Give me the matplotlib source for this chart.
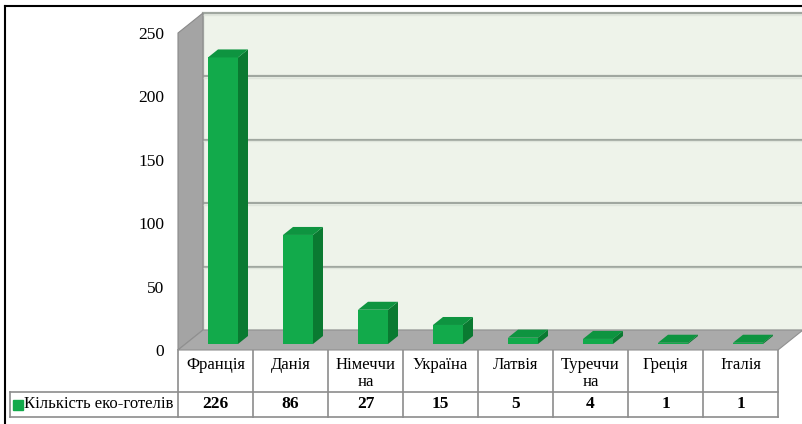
import matplotlib.pyplot as plt
from matplotlib.patches import Polygon
from matplotlib.lines import Line2D

# Дані
countries = ['Франція', 'Данія', 'Німеччи\nна', 'Україна', 'Латвія', 'Туреччи\nна', 'Греція', 'Італія']
hotels = [226, 86, 27, 15, 5, 4, 1, 1]
series_name = 'Кількість еко-готелів'
yticks = [0, 50, 100, 150, 200, 250]

plt.rcParams['font.family'] = ['Liberation Serif', 'DejaVu Serif']

W, H = 803, 424
fig = plt.figure(figsize=(W / 100, H / 100), dpi=100)
ax = fig.add_axes([178 / W, (H - 350) / H, 600 / W, 317 / H])
n = len(countries)
ax.set_xlim(0, n)
ax.set_ylim(0, 250)
for s in ax.spines.values():
    s.set_visible(False)
ax.set_facecolor('none')

# глибина 3D (в одиницях даних)
dx = 25 / 75
dy = 20 / (317 / 250)
top = yticks[-1]

# задня стінка
ax.add_patch(Polygon([(dx, dy), (n + dx, dy), (n + dx, top + dy), (dx, top + dy)],
                     closed=True, fc='#eef3ea', ec='#b8beb8', lw=1.0, clip_on=False, zorder=1))
for v in yticks[1:]:
    ax.plot([dx, n + dx], [v + dy, v + dy], color='#a0a7a0', lw=1.6, clip_on=False, zorder=2)
    ax.plot([dx, n + dx], [v + dy - 1.2, v + dy - 1.2], color='#dfe5dc', lw=1.0, clip_on=False, zorder=2)

# ліва стінка
ax.add_patch(Polygon([(0, 0), (dx, dy), (dx, top + dy), (0, top)],
                     closed=True, fc='#a4a4a4', ec='#8a8a8a', lw=0.8, clip_on=False, zorder=3))
# підлога
ax.add_patch(Polygon([(0, 0), (n, 0), (n + dx, dy), (dx, dy)],
                     closed=True, fc='#aaaaaa', ec='#909090', lw=0.8, clip_on=False, zorder=3))

# стовпчики
front_c, side_c, top_c = '#12aa4b', '#0a7a31', '#0e9440'
f0, d = 0.3, 0.4
for i, v in enumerate(hotels):
    x0 = i + 0.3 + f0 * dx
    x1 = x0 + 0.4
    y0 = f0 * dy
    y1 = v + f0 * dy
    ax.bar(x0 + 0.2, v, width=0.4, bottom=y0, color=front_c, lw=0, zorder=5, clip_on=False)
    ax.add_patch(Polygon([(x1, y0), (x1 + d * dx, y0 + d * dy), (x1 + d * dx, y1 + d * dy), (x1, y1)],
                         closed=True, fc=side_c, lw=0, clip_on=False, zorder=5))
    ax.add_patch(Polygon([(x0, y1), (x1, y1), (x1 + d * dx, y1 + d * dy), (x0 + d * dx, y1 + d * dy)],
                         closed=True, fc=top_c, lw=0, clip_on=False, zorder=5))

# вісь Y
ax.set_xticks([])
ax.set_yticks(yticks)
ax.set_yticklabels([str(t) for t in yticks], fontsize=12.5)
ax.tick_params(axis='y', length=0, pad=10)

# таблиця даних
xt = ax.get_xaxis_transform()
y_mid = -42 / 317
y_bot = -67 / 317
x_left = -168 / 75
line_c = '#8c8c8c'
ax.plot([x_left, n], [y_mid, y_mid], color=line_c, lw=1.2, transform=xt, clip_on=False)
ax.plot([x_left, n], [y_bot, y_bot], color=line_c, lw=1.2, transform=xt, clip_on=False)
ax.plot([x_left, x_left], [y_mid, y_bot], color=line_c, lw=1.2, transform=xt, clip_on=False)
for i in range(n + 1):
    ax.plot([i, i], [0, y_bot], color=line_c, lw=1.2, transform=xt, clip_on=False)
for i, (c, v) in enumerate(zip(countries, hotels)):
    ax.text(i + 0.5, -7 / 317, c, transform=xt, ha='center', va='top', fontsize=12,
            linespacing=1.05)
    ax.text(i + 0.5, (y_mid + y_bot) / 2, str(v), transform=xt, ha='center', va='center',
            fontsize=12.5, fontweight='bold')
ax.plot([(18 - 178) / 75], [(y_mid + y_bot) / 2], marker='s', ms=6.5, color=front_c,
        transform=xt, clip_on=False)
ax.text((24 - 178) / 75, (y_mid + y_bot) / 2, series_name, transform=xt, ha='left',
        va='center', fontsize=12)

# рамка
fig.add_artist(Line2D([5 / W, 1], [1 - 6 / H, 1 - 6 / H], color='black', lw=1.5))
fig.add_artist(Line2D([5 / W, 5 / W], [0, 1 - 6 / H], color='black', lw=1.5))

fig.savefig('out.png', dpi=100)
